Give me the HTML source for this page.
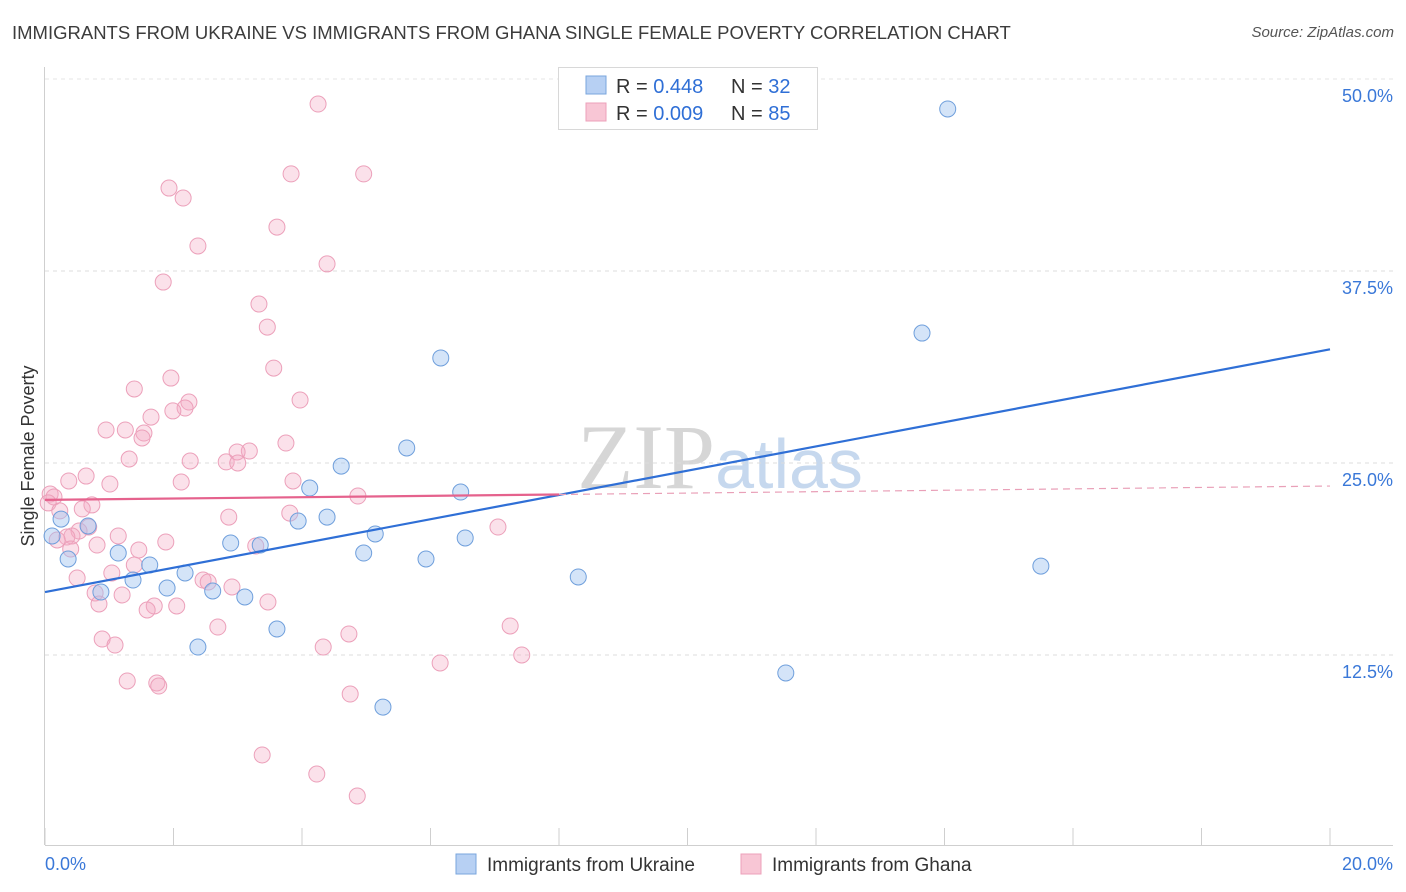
<!DOCTYPE html>
<html><head><meta charset="utf-8"><style>
body{margin:0;background:#fff;font-family:"Liberation Sans",sans-serif;}
#wrap{position:relative;width:1406px;height:892px;overflow:hidden;}
.title{position:absolute;left:12px;top:22px;font-size:18.5px;color:#3c3c3c;}
.source{position:absolute;right:12px;top:24px;font-size:15px;color:#555;font-style:italic;}
</style></head><body>
<div id="wrap">
<div class="title">IMMIGRANTS FROM UKRAINE VS IMMIGRANTS FROM GHANA SINGLE FEMALE POVERTY CORRELATION CHART</div>
<div class="source">Source: ZipAtlas.com</div>
<svg id="svg" width="1406" height="892" style="position:absolute;left:0;top:0">
<text x="720" y="488" font-size="92" text-anchor="middle" font-family="Liberation Serif,serif" fill="#d8dce2"><tspan fill="#d6d6d6">ZIP</tspan><tspan fill="#c6d8ee" font-family="Liberation Sans,sans-serif" font-size="70">atlas</tspan></text>
</svg>
</div>
<script>
const xTicks=[0,2,4,6,8,10,12,14,16,18,20];
const yTicks=[12.5,25,37.5,50];
const yTickLabels=["12.5%","25.0%","37.5%","50.0%"];
const ukraineX=[14.05,13.65,6.16,5.63,4.61,4.12,6.47,3.94,4.39,0.67,0.25,0.11,0.36,1.14,1.63,1.37,0.87,2.18,1.90,2.61,3.11,2.89,3.35,5.14,4.96,5.93,6.54,8.30,15.50,3.61,2.38,11.53,5.26];
const ukraineY=[48.05,33.46,31.84,25.98,24.80,23.37,23.11,21.22,21.48,20.90,21.35,20.25,18.75,19.14,18.36,17.38,16.60,17.84,16.86,16.67,16.28,19.79,19.66,20.38,19.14,18.75,20.12,17.58,18.29,14.19,13.02,11.33,9.11];
const ghanaX=[4.25,1.93,2.15,3.83,4.96,2.38,3.61,4.39,1.84,3.33,3.46,3.56,1.96,1.39,3.97,2.24,2.18,1.99,1.65,0.95,1.25,1.54,1.51,3.75,3.18,2.99,1.31,2.26,2.82,3.00,0.64,0.37,2.12,1.01,3.86,0.08,0.14,4.87,0.05,0.73,0.58,0.23,3.81,2.86,7.05,0.68,0.53,0.42,1.14,0.34,1.88,0.19,0.81,0.40,1.46,3.28,1.39,1.04,0.50,2.46,2.54,2.91,0.78,1.20,3.47,1.70,0.84,2.05,1.59,2.69,7.24,4.73,0.89,1.09,4.33,7.42,6.15,1.28,1.74,1.77,4.75,3.38,4.23,4.86];
const ghanaY=[48.37,42.90,42.25,43.82,43.82,39.13,40.36,37.96,36.78,35.35,33.85,31.18,30.53,29.82,29.10,28.97,28.58,28.39,27.99,27.15,27.15,26.95,26.63,26.30,25.78,25.72,25.26,25.13,25.07,25.00,24.15,23.83,23.76,23.63,23.83,22.98,22.79,22.85,22.40,22.27,22.01,21.88,21.74,21.48,20.83,20.83,20.57,20.25,20.25,20.18,19.86,19.99,19.66,19.40,19.34,19.60,18.36,17.84,17.51,17.38,17.25,16.93,16.54,16.41,15.95,15.69,15.82,15.69,15.43,14.32,14.39,13.87,13.54,13.15,13.02,12.50,11.98,10.81,10.68,10.48,9.96,5.99,4.75,3.32];
const ukraineTrend=[16.6,32.4];
const ghanaTrend=[22.6,22.95,23.5];
const ghanaSolidEnd=8;

const sx=v=>45+v/20*1285;
const sy=v=>847-v/12.5*192;
const svg=document.getElementById('svg');
const NS='http://www.w3.org/2000/svg';
function mk(t,a){const e=document.createElementNS(NS,t);for(const k in a)e.setAttribute(k,a[k]);svg.appendChild(e);return e;}
function txt(x,y,s,size,fill,anchor){const e=mk('text',{x:x,y:y,'font-size':size,fill:fill,'text-anchor':anchor||'start','font-family':'Liberation Sans,sans-serif'});e.textContent=s;return e;}

yTicks.forEach((v,i)=>{
 const g=mk('line',{x1:45,x2:1393,y1:sy(v),y2:sy(v),stroke:'#dcdcdc','stroke-dasharray':'4,4'});
 
 
 const t=txt(1393,sy(v)+23,yTickLabels[i],18,'#3a78d8','end');
 
 
});
const topGrid=mk('line',{x1:45,x2:1393,y1:79,y2:79,stroke:'#e4e4e4','stroke-dasharray':'4,4'});


const ya=mk('line',{x1:44.5,x2:44.5,y1:67,y2:845,stroke:'#cfcfcf'});


const xa=mk('line',{x1:45,x2:1393,y1:845.5,y2:845.5,stroke:'#cfcfcf'});


xTicks.forEach(v=>{
 const l=mk('line',{x1:sx(v),x2:sx(v),y1:828,y2:845,stroke:'#cfcfcf'});
 
 
});
const xl0=txt(45,870,'0.0%',18,'#3a78d8','start');


const xl1=txt(1393,870,'20.0%',18,'#3a78d8','end');


const yTitle=txt(0,0,'Single Female Poverty',18,'#333','middle');
yTitle.setAttribute('transform','translate(34,456) rotate(-90)');



ghanaX.forEach((x,i)=>{
 const c=mk('circle',{cx:sx(x),cy:sy(ghanaY[i]),r:8,fill:'rgba(244,170,196,0.35)',stroke:'#eca0ba','stroke-width':1});
 
 
});
ukraineX.forEach((x,i)=>{
 const c=mk('circle',{cx:sx(x),cy:sy(ukraineY[i]),r:8,fill:'rgba(160,195,240,0.45)',stroke:'#6f9fdc','stroke-width':1});
 
 
});
const ut=mk('line',{x1:sx(0),y1:sy(ukraineTrend[0]),x2:sx(20),y2:sy(ukraineTrend[1]),stroke:'#2f6fd6','stroke-width':2.2});


const gt=mk('line',{x1:sx(0),y1:sy(ghanaTrend[0]),x2:sx(ghanaSolidEnd),y2:sy(ghanaTrend[1]),stroke:'#e5628d','stroke-width':2.2});


const gd=mk('line',{x1:sx(ghanaSolidEnd),y1:sy(ghanaTrend[1]),x2:sx(20),y2:sy(ghanaTrend[2]),stroke:'#e9a0b8','stroke-width':1.2,'stroke-dasharray':'7,5'});



const lb=mk('rect',{x:558.5,y:67.5,width:259,height:62,fill:'#fff',stroke:'#d8d8d8'});


const s1=mk('rect',{x:586,y:76,width:20,height:18,fill:'#b7d0f3',stroke:'#7aa6dc'});


const s2=mk('rect',{x:586,y:103,width:20,height:18,fill:'#f8c6d5',stroke:'#eca0ba'});


function legLine(y,r,n,name){
 const t=document.createElementNS(NS,'text');
 t.setAttribute('y',y);t.setAttribute('font-size',20);t.setAttribute('font-family','Liberation Sans,sans-serif');
 t.innerHTML='<tspan x="616" fill="#333">R = </tspan><tspan fill="#2f6fd6">'+r+'</tspan><tspan x="731" fill="#333">N = </tspan><tspan fill="#2f6fd6">'+n+'</tspan>';
 
 
 svg.appendChild(t);
}
legLine(93,' 0.448','32','ukraine-stats');
legLine(120,'0.009','85','ghana-stats');

const b1=mk('rect',{x:456,y:854,width:20,height:20,fill:'#b7d0f3',stroke:'#7aa6dc'});


const bt1=txt(487,871,'Immigrants from Ukraine',19,'#333');


const b2=mk('rect',{x:741,y:854,width:20,height:20,fill:'#f8c6d5',stroke:'#eca0ba'});


const bt2=txt(772,871,'Immigrants from Ghana',19,'#333');


</script>
</body></html>
